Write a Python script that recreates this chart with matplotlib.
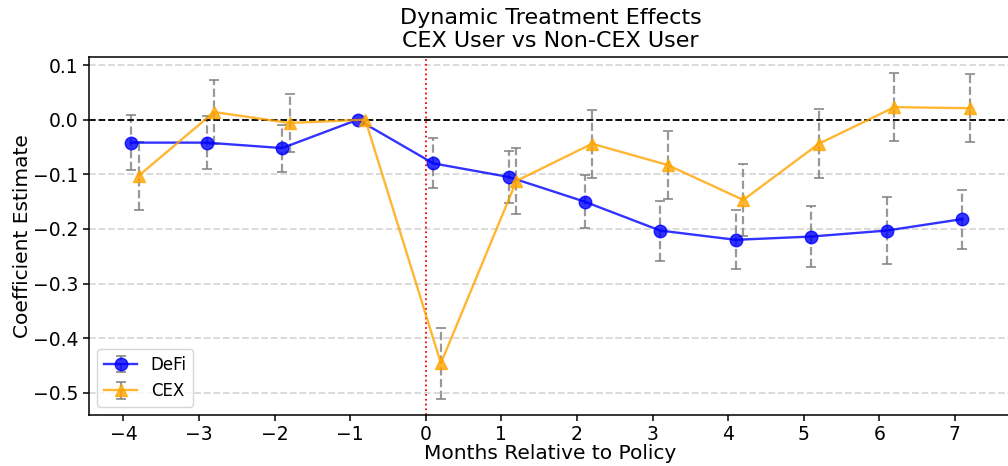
import matplotlib
matplotlib.use("Agg")
import matplotlib.pyplot as plt
import numpy as np

# Event-time data
months = np.array([-4, -3, -2, -1, 0, 1, 2, 3, 4, 5, 6, 7])

defi_coef = np.array([-0.042, -0.042, -0.052, 0.0, -0.080, -0.105, -0.150, -0.203, -0.220, -0.214, -0.203, -0.182])
defi_err = np.array([0.050, 0.049, 0.043, 0.0, 0.046, 0.047, 0.049, 0.055, 0.054, 0.056, 0.062, 0.054])

cex_coef = np.array([-0.103, 0.014, -0.006, 0.0, -0.446, -0.112, -0.044, -0.083, -0.147, -0.044, 0.023, 0.021])
cex_err = np.array([0.063, 0.058, 0.053, 0.0, 0.065, 0.060, 0.062, 0.062, 0.066, 0.063, 0.062, 0.062])

fig = plt.figure(figsize=(10.08, 4.66), dpi=100)
ax = fig.add_axes([89 / 1008, 1 - 415 / 466, (1012 - 89) / 1008, (415 - 57) / 466])

# omit error bars for the reference period (-1)
defi_yerr = np.where(months == -1, np.nan, defi_err)
cex_yerr = np.where(months == -1, np.nan, cex_err)

eb1 = ax.errorbar(months + 0.1, defi_coef, yerr=defi_yerr, fmt='o-', color='blue',
                  ecolor='gray', capsize=3.5, markersize=9, linewidth=1.7,
                  elinewidth=1.6, capthick=1.4, alpha=0.8, label='DeFi')
eb1[-1][0].set_linestyle('--')
eb2 = ax.errorbar(months + 0.2, cex_coef, yerr=cex_yerr, fmt='^-', color='orange',
                  ecolor='gray', capsize=3.5, markersize=9, linewidth=1.7,
                  elinewidth=1.6, capthick=1.4, alpha=0.8, label='CEX')
eb2[-1][0].set_linestyle('--')

ax.axhline(0, color='black', linestyle='--', linewidth=1.3)
ax.axvline(0, color='red', linestyle=':', linewidth=1.3)

ax.set_xticks(months)
ax.grid(axis='y', linestyle='--', alpha=0.5, linewidth=1.3)
ax.set_axisbelow(True)
for s in ax.spines.values():
    s.set_linewidth(1.1)

ax.set_xlabel('Months Relative to Policy', fontsize=14.5, labelpad=0)
ax.set_ylabel('Coefficient Estimate', fontsize=14.5, labelpad=1)
ax.set_title('Dynamic Treatment Effects\nCEX User vs Non-CEX User', fontsize=16, pad=7)
ax.tick_params(labelsize=13.5, width=1.1, length=4)
ax.legend(loc='lower left', fontsize=12)

fig.savefig('out.png', dpi=100)
